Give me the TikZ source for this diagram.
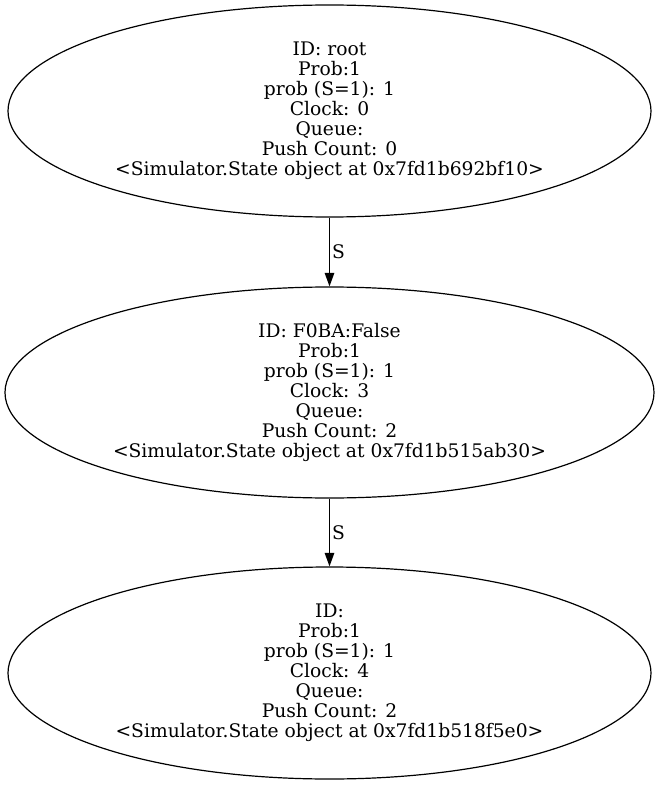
\documentclass[tikz,border=0pt]{standalone}
\usepackage{fontspec}
\setmainfont{DejaVu Serif}
\usetikzlibrary{shapes.geometric,arrows.meta}
\begin{document}
\begin{tikzpicture}[x=1pt,y=-1pt,
  state/.style={draw,ellipse,inner sep=0pt,line width=1.2pt,align=center,
     font=\fontsize{18.7}{20}\selectfont},
  edge/.style={-{Triangle[length=13.5pt,width=9.5pt]},line width=1.2pt},
  elab/.style={font=\fontsize{18.7}{20}\selectfont,anchor=west,inner sep=2pt}]
\useasboundingbox (0,0) rectangle (659,786);
\node[state,minimum width=643,minimum height=212] (root) at (329.5,111)
 {ID: root\\Prob:1\\prob (S=1): 1\\Clock: 0\\Queue: \\Push Count: 0\\<Simulator.State object at 0x7fd1b692bf10>};
\node[state,minimum width=649,minimum height=211] (f0ba) at (329.5,392.5)
 {ID: F0BA:False\\Prob:1\\prob (S=1): 1\\Clock: 3\\Queue: \\Push Count: 2\\<Simulator.State object at 0x7fd1b515ab30>};
\node[state,minimum width=643,minimum height=212] (last) at (329.5,673)
 {ID: \\Prob:1\\prob (S=1): 1\\Clock: 4\\Queue: \\Push Count: 2\\<Simulator.State object at 0x7fd1b518f5e0>};
\draw[edge] (root) -- node[elab] {S} (f0ba);
\draw[edge] (f0ba) -- node[elab] {S} (last);
\end{tikzpicture}
\end{document}
